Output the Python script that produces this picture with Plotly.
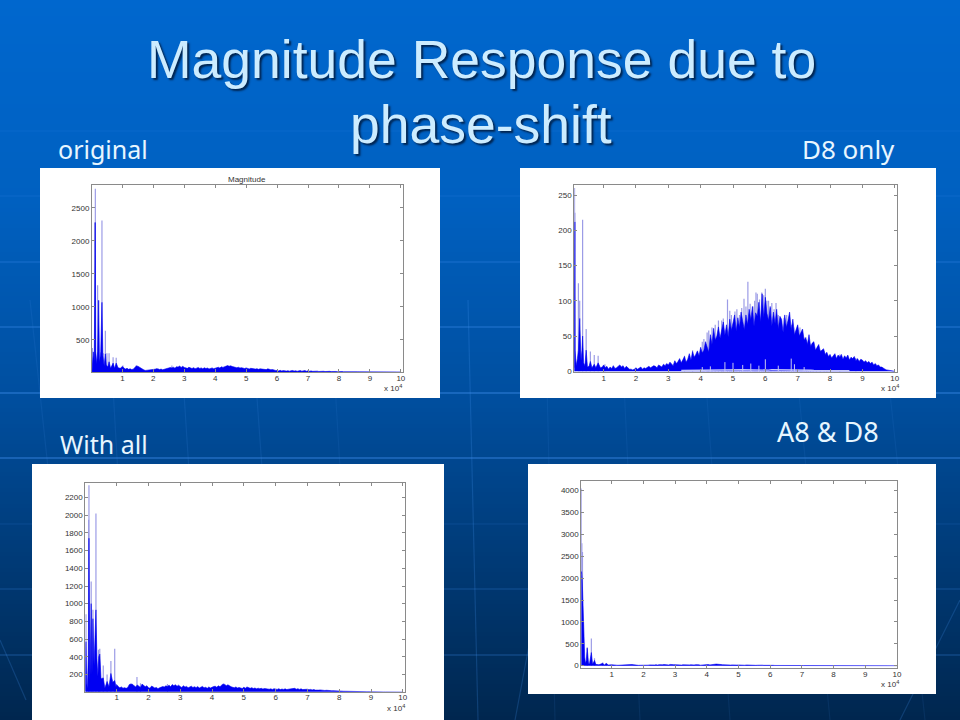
import plotly.graph_objects as go

TITLE_LINES = ["Magnitude Response due to", "phase-shift"]
PANEL_LABELS = ["original", "D8 only", "With all", "A8 & D8"]
X_TICKS = [1, 2, 3, 4, 5, 6, 7, 8, 9, 10]
P1_Y_TICKS = [500, 1000, 1500, 2000, 2500]
P2_Y_TICKS = [0, 50, 100, 150, 200, 250]
P3_Y_TICKS = [200, 400, 600, 800, 1000, 1200, 1400, 1600, 1800, 2000, 2200]
P4_Y_TICKS = [0, 500, 1000, 1500, 2000, 2500, 3000, 3500, 4000]

# Spectra: frequency in units of 10^4, magnitude.
# *_LOW_* hold the narrow peaks below 1; *_HIGH_Y are sampled every 0.05 from 1.00 to 10.00.
P1_LOW_X = [0.02, 0.06, 0.09, 0.11, 0.125, 0.14, 0.17, 0.2, 0.234, 0.26, 0.3, 0.34, 0.37, 0.41, 0.45, 0.48, 0.53, 0.57, 0.62, 0.7, 0.75, 0.8, 0.86, 0.93]
P1_LOW_Y = [30, 320, 180, 1780, 2280, 320, 140, 320, 1100, 160, 320, 1070, 260, 110, 290, 120, 90, 170, 70, 150, 70, 150, 80, 70]
P1_HIGH_Y = [100, 75, 60, 70, 55, 63, 53, 57, 90, 105, 103, 85, 75, 57, 45, 39, 43, 45, 41, 49,
             57, 53, 67, 63, 51, 59, 49, 55, 63, 75, 71, 83, 77, 87, 73, 95, 89, 104, 85, 101,
             85, 79, 70, 87, 75, 67, 81, 65, 73, 83, 69, 77, 63, 79, 67, 75, 61, 71, 77, 65,
             73, 81, 87, 75, 93, 85, 97, 109, 112, 103, 108, 99, 91, 85, 79, 87, 75, 81, 73, 67,
             77, 65, 61, 71, 63, 67, 59, 65, 55, 63, 61, 53, 59, 51, 63, 55, 49, 53, 43, 39,
             38, 32, 40, 31, 36, 30, 29, 35, 28, 33, 38, 29, 34, 27, 33, 37, 28, 32, 36, 26,
             35, 27, 32, 25, 29, 24, 28, 23, 27, 22, 26, 22, 25, 21, 25, 21, 24, 20, 23, 20,
             24, 19, 22, 19, 20, 18, 20, 18, 18, 18, 18, 17, 18, 17, 17, 17, 17, 17, 17, 16,
             17, 16, 17, 16, 16, 16, 16, 16, 16, 16, 16, 16, 16, 15.5, 15.5, 15.5, 15.5, 15, 15, 15, 15]
P1_PEAK_X = [0.03, 0.105, 0.126, 0.2, 0.22, 0.34, 0.38, 0.45, 0.5, 0.57, 0.7, 0.8, 1.02, 1.45, 2.1, 2.6]
P1_PEAK_Y = [380, 2280, 2790, 1330, 1100, 2310, 300, 640, 300, 300, 240, 230, 115, 118, 75, 112]

P3_LOW_X = [0.015, 0.035, 0.06, 0.08, 0.11, 0.13, 0.16, 0.2, 0.225, 0.255, 0.29, 0.32, 0.35, 0.38, 0.41, 0.44, 0.47, 0.51, 0.58, 0.63, 0.7, 0.76, 0.82, 0.88, 0.94, 0.98]
P3_LOW_Y = [10, 570, 100, 40, 400, 1740, 120, 1000, 200, 830, 300, 620, 930, 380, 180, 400, 430, 150, 160, 45, 120, 60, 210, 110, 130, 60]
P3_HIGH_Y = [85, 62, 48, 58, 44, 50, 42, 52, 85, 92, 88, 70, 58, 80, 62, 52, 90, 75, 60, 72,
             48, 44, 68, 58, 46, 52, 38, 48, 56, 62, 58, 70, 64, 78, 60, 85, 72, 82, 66, 78,
             62, 52, 72, 56, 64, 48, 58, 66, 52, 60, 50, 62, 46, 56, 64, 48, 54, 42, 58, 46,
             56, 62, 66, 54, 70, 60, 78, 92, 86, 72, 82, 66, 60, 54, 48, 58, 46, 52, 44, 40,
             54, 44, 58, 46, 42, 50, 40, 46, 36, 44, 38, 42, 34, 40, 36, 38, 32, 36, 30, 38,
             34, 30, 38, 28, 34, 30, 36, 28, 32, 34, 40, 36, 42, 32, 38, 30, 36, 28, 32, 30,
             32, 26, 30, 24, 28, 22, 26, 22, 24, 20, 22, 18, 20, 16, 18, 16, 16, 14, 15, 12,
             13, 11, 10, 9, 9, 8, 8, 7, 7, 6, 6, 6, 5, 5, 5, 4, 4, 4, 4, 3,
             3, 3, 3, 3, 2, 2, 2, 2, 2, 2, 1, 1, 1, 1, 1, 1, 0.5, 0.5, 0.5, 0.3, 0]
P3_PEAK_X = [0.035, 0.12, 0.13, 0.2, 0.255, 0.35, 0.43, 0.47, 0.58, 0.7, 0.82, 0.94, 1.64, 1.75, 2.6]
P3_PEAK_Y = [880, 1950, 2340, 1250, 930, 2020, 480, 490, 300, 200, 350, 490, 170, 100, 90]

P4_LOW_X = [0.043, 0.05, 0.07, 0.09, 0.105, 0.12, 0.15, 0.175, 0.2, 0.23, 0.27, 0.3, 0.36, 0.4, 0.46, 0.5, 0.6, 0.72, 0.77, 0.83, 0.9]
P4_LOW_Y = [2100, 2150, 2000, 1400, 1000, 500, 200, 50, 120, 400, 60, 40, 300, 30, 120, 30, 20, 55, 15, 50, 15]
P4_HIGH_Y = [22, 14, 10, 12, 9, 11, 8, 10, 14, 20, 30, 34, 26, 28, 20, 12, 9, 8, 10, 8,
             14, 10, 16, 12, 18, 14, 20, 16, 22, 14, 24, 18, 20, 26, 18, 22, 16, 28, 20, 24,
             22, 16, 24, 18, 14, 20, 16, 22, 14, 18, 20, 14, 16, 24, 14, 20, 12, 18, 24, 16,
             20, 26, 18, 28, 22, 32, 36, 38, 32, 26, 22, 18, 24, 16, 20, 14, 18, 12, 16, 14,
             16, 12, 18, 14, 10, 16, 12, 14, 10, 14, 12, 8, 10, 14, 8, 12, 8, 10, 8, 6,
             8, 6, 8, 5, 6, 4, 6, 4, 5, 3, 4, 6, 4, 3, 5, 3, 4, 3, 4, 3,
             4, 3, 3, 2, 3, 2, 3, 2, 2, 2, 2, 2, 2, 2, 2, 1, 2, 1, 1, 1,
             1, 1, 1, 1, 1, 1, 1, 1, 1, 1, 1, 1, 1, 1, 1, 1, 1, 1, 1, 1,
             1, 1, 1, 1, 1, 1, 0.5, 0.5, 0.5, 0.5, 0.5, 0.5, 0.5, 0.5, 0.5, 0.5, 0.3, 0.3, 0.3, 0.2, 0]
P4_PEAK_X = [0.045, 0.06, 0.08, 0.1, 0.23, 0.36, 0.46, 0.72, 0.83]
P4_PEAK_Y = [4050, 2800, 2600, 1000, 420, 620, 170, 70, 60]

P2_LOW_X = [0.093, 0.105, 0.11, 0.12, 0.15, 0.19, 0.22, 0.26, 0.3, 0.33, 0.35, 0.38, 0.42, 0.46, 0.5, 0.55, 0.59, 0.64, 0.71, 0.76, 0.83, 0.9, 0.96]
P2_LOW_Y = [5, 150, 212, 30, 8, 18, 30, 75, 15, 30, 50, 12, 8, 30, 6, 7, 14, 5, 10, 5, 12, 5, 6]
P2_HIGH_Y = [9, 5, 7, 3, 6, 4, 8, 4, 5, 7, 9, 6, 8, 4, 7, 5, 3, 3, 2, 3,
             5, 3, 4, 6, 3, 5, 4, 6, 7, 5, 6, 8, 7, 5, 9, 8, 6, 10, 8, 11,
             9, 13, 10, 8, 15, 11, 14, 18, 12, 16, 21, 13, 17, 25, 16, 28, 20, 24, 29, 22,
             34, 26, 30, 42, 33, 27, 52, 38, 61, 44, 50, 63, 47, 58, 70, 52, 66, 49, 74, 58,
             68, 80, 57, 76, 62, 84, 71, 59, 80, 66, 88, 73, 92, 64, 83, 78, 98, 70, 110, 76,
             105, 82, 72, 92, 64, 84, 68, 88, 60, 78, 74, 55, 80, 62, 72, 84, 58, 74, 52, 60,
             66, 50, 56, 60, 44, 48, 38, 52, 35, 40, 42, 30, 34, 38, 28, 30, 32, 24, 27, 21,
             24, 19, 22, 25, 18, 23, 20, 24, 17, 22, 19, 23, 16, 20, 18, 21, 15, 18, 14, 17,
             16, 13, 15, 12, 14, 11, 13, 9, 11, 8, 9, 6, 6, 4, 3, 2, 1.5, 1, 0.5, 0.3, 0]
P2_PEAK_X = [0.1, 0.11, 0.22, 0.26, 0.35, 0.46, 0.59, 0.71, 0.83, 1.04, 3.5, 3.75, 4.05, 4.1, 4.2, 4.25, 4.35, 4.45, 4.55, 4.65, 4.7, 4.83, 4.9, 4.95, 5.06, 5.12, 5.2, 5.27, 5.34, 5.4, 5.46, 5.53, 5.62, 5.67, 5.71, 5.75, 5.82, 5.89, 5.95, 6.0, 6.05, 6.1, 6.15, 6.2, 6.27, 6.33, 6.4, 6.5, 6.58, 6.66, 6.73, 6.81, 6.88, 6.95, 7.0, 7.07, 7.13, 7.2, 7.27, 7.33, 7.4, 7.48, 7.58, 7.7, 7.82, 7.9, 8.3, 8.8]
P2_PEAK_Y = [260, 225, 125, 100, 215, 60, 28, 23, 22, 10, 22, 30, 42, 46, 55, 58, 62, 66, 72, 72, 75, 102, 86, 80, 85, 88, 80, 90, 103, 92, 127, 96, 92, 100, 112, 110, 102, 112, 108, 117, 100, 100, 90, 97, 88, 97, 80, 72, 76, 80, 74, 66, 62, 56, 58, 62, 50, 48, 44, 42, 38, 40, 30, 30, 28, 24, 24, 19]
P2_NOTCH_X = [4.05, 4.3, 4.75, 5.0, 5.3, 5.55, 5.8, 6.0, 6.4, 6.8, 6.9, 7.2]
P2_NOTCH_Y = [6, 7, 13, 12, 9, 11, 8, 17, 8, 18, 10, 6]
P2_FLOOR_X = [3.4, 4.6, 4.7, 5.2, 5.3, 6.1, 6.2, 7.4, 7.5, 8.6]
P2_FLOOR_Y = [1.2, 1.5, 2.4, 1.6, 2.2, 1.6, 2.3, 1.5, 1.2, 1.0]

W, H = 960, 720
BLUE = "#0000f2"
LIGHT = "#9c9ce6"
AXIS = "#8a8a8a"
TICK_TEXT = "#333333"

HIGH_X = [round(1 + i * 0.05, 2) for i in range(len(P2_HIGH_Y))]


def px(x):
    return x / W


def py(y):
    return 1 - y / H


def sticks(xs, ys):
    sx, sy = [], []
    for x, y in zip(xs, ys):
        sx += [x, x, None]
        sy += [0, y, None]
    return sx, sy


def note(text, x, y, font):
    return dict(text=text, x=px(x), y=py(y), xref="paper", yref="paper", showarrow=False,
                xanchor="center", yanchor="middle", font=font)


panels = [
    dict(white=(40, 168, 440, 398), plot=(92, 185.3, 402.7, 372), xr=[0.018, 10.06], yr=[15, 2843],
         ticks=P1_Y_TICKS, bx=P1_LOW_X + HIGH_X, by=P1_LOW_Y + P1_HIGH_Y, sx=P1_PEAK_X, sy=P1_PEAK_Y, exp=(393, 387.5)),
    dict(white=(520, 168, 936, 398), plot=(574.3, 185.3, 897.3, 372), xr=[0.093, 10.08], yr=[-1, 264],
         ticks=P2_Y_TICKS, bx=P2_LOW_X + HIGH_X, by=P2_LOW_Y + P2_HIGH_Y, sx=P2_PEAK_X, sy=P2_PEAK_Y, exp=(890, 387.5)),
    dict(white=(32, 464, 444, 720), plot=(85.3, 483.3, 404.7, 691.7), xr=[0.015, 10.06], yr=[4, 2362],
         ticks=P3_Y_TICKS, bx=P3_LOW_X + HIGH_X, by=P3_LOW_Y + P3_HIGH_Y, sx=P3_PEAK_X, sy=P3_PEAK_Y, exp=(396, 707.5)),
    dict(white=(528, 464, 936, 694), plot=(581.3, 481.3, 897.3, 668), xr=[0.043, 10.01], yr=[-53, 4213],
         ticks=P4_Y_TICKS, bx=P4_LOW_X + HIGH_X, by=P4_LOW_Y + P4_HIGH_Y, sx=P4_PEAK_X, sy=P4_PEAK_Y, exp=(889.7, 683.5)),
]

fig = go.Figure()
shapes = []
annotations = []

# Slide background: vertical gradient painted from the top down.
stops = [(0, (0, 103, 206)), (200, (0, 96, 192)), (400, (0, 78, 158)), (560, (0, 58, 118)), (720, (0, 38, 78))]


def grad(y):
    for (y0, c0), (y1, c1) in zip(stops, stops[1:]):
        if y <= y1:
            t = (y - y0) / (y1 - y0)
            return tuple(round(a + (b - a) * t) for a, b in zip(c0, c1))
    return stops[-1][1]


for y in range(0, H, 4):
    r, g, b = grad(y)
    shapes.append(dict(type="rect", xref="paper", yref="paper", x0=0, x1=1, y0=0, y1=py(y),
                       fillcolor=f"rgb({r},{g},{b})", line=dict(width=0), layer="below"))

# Faint background grid of the slide template.
for y, a in [(131, .10), (196, .15), (262, .30), (327, .40), (393, .55), (458, .55), (524, .12), (589, .22), (655, .28)]:
    shapes.append(dict(type="line", xref="paper", yref="paper", x0=0, x1=1, y0=py(y), y1=py(y),
                       line=dict(color=f"rgba(60,140,235,{a})", width=1.5), layer="below"))
for x0, x1, a in [(30, 75, .12), (108, 132, .12), (178, 205, .14), (250, 280, .14), (330, 355, .10), (468, 478, .22),
                  (545, 555, .10), (620, 640, .10), (700, 730, .10), (790, 830, .10), (880, 925, .10)]:
    shapes.append(dict(type="line", xref="paper", yref="paper", x0=px(x0), x1=px(x1), y0=py(300), y1=py(720),
                       line=dict(color=f"rgba(70,150,240,{a})", width=1.2), layer="below"))
for x0, y0, x1, y1 in [(0, 640, 26, 700), (960, 600, 900, 720), (530, 640, 515, 720)]:
    shapes.append(dict(type="line", xref="paper", yref="paper", x0=px(x0), x1=px(x1), y0=py(y0), y1=py(y1),
                       line=dict(color="rgba(70,150,240,.22)", width=1.2), layer="below"))

small = dict(family="Liberation Sans", size=8, color=TICK_TEXT)
layout_axes = {}
for i, p in enumerate(panels, start=1):
    x0, y0, x1, y1 = p["white"]
    shapes.append(dict(type="rect", xref="paper", yref="paper", x0=px(x0), x1=px(x1), y0=py(y1), y1=py(y0),
                       fillcolor="white", line=dict(width=0), layer="below"))
    lx, ty, rx, by = p["plot"]
    common = dict(showline=True, mirror="ticks", linecolor=AXIS, linewidth=1, ticks="inside", ticklen=3,
                  tickcolor=AXIS, tickwidth=1, showgrid=False, zeroline=False, tickfont=small)
    layout_axes[f"xaxis{i}"] = dict(domain=[px(lx), px(rx)], range=p["xr"], tickvals=X_TICKS,
                                    anchor=f"y{i}", ticklabelstandoff=-2, **common)
    layout_axes[f"yaxis{i}"] = dict(domain=[py(by), py(ty)], range=p["yr"], tickvals=p["ticks"],
                                    anchor=f"x{i}", **common)
    sx, sy = sticks(p["sx"], p["sy"])
    fig.add_trace(go.Scatter(x=sx, y=sy, mode="lines", line=dict(color=LIGHT, width=1.2),
                             xaxis=f"x{i}", yaxis=f"y{i}", hoverinfo="skip"))
    fig.add_trace(go.Scatter(x=p["bx"], y=p["by"], mode="lines", fill="tozeroy", fillcolor=BLUE,
                             line=dict(color=BLUE, width=0.6), xaxis=f"x{i}", yaxis=f"y{i}", hoverinfo="skip"))
    ex, ey = p["exp"]
    annotations.append(note("x 10<sup>4</sup>", ex, ey, small))

nx, ny = sticks(P2_NOTCH_X, P2_NOTCH_Y)
fig.add_trace(go.Scatter(x=nx, y=ny, mode="lines", line=dict(color="#c8c8ee", width=1),
                         xaxis="x2", yaxis="y2", hoverinfo="skip"))
fig.add_trace(go.Scatter(x=P2_FLOOR_X, y=P2_FLOOR_Y, mode="lines", line=dict(color="#c4c8fa", width=1.4),
                         xaxis="x2", yaxis="y2", hoverinfo="skip"))

annotations.append(note("Magnitude", 247, 179, small))

SHADOW = "2px 2px 2px #00244f"
title_font = dict(family="Liberation Sans", size=53.5, color="#CCECFF", shadow=SHADOW)
for text, y in zip(TITLE_LINES, [59, 124]):
    annotations.append(note(text, 481, y, title_font))

for text, (x, y), size in zip(PANEL_LABELS, [(103, 149), (848, 149), (103.5, 444), (828, 431)], [25, 26, 25, 27]):
    annotations.append(note(text, x, y, dict(family="Noto Sans", size=size, color="#E8F6FF")))

fig.update_layout(width=W, height=H, margin=dict(l=0, r=0, t=0, b=0, autoexpand=False), showlegend=False,
                  paper_bgcolor="#004f9f", plot_bgcolor="rgba(0,0,0,0)",
                  shapes=shapes, annotations=annotations, **layout_axes)
fig.write_html("out.html", config=dict(displayModeBar=False),
               post_script="document.body.style.margin='0';document.documentElement.style.overflow='hidden';")
